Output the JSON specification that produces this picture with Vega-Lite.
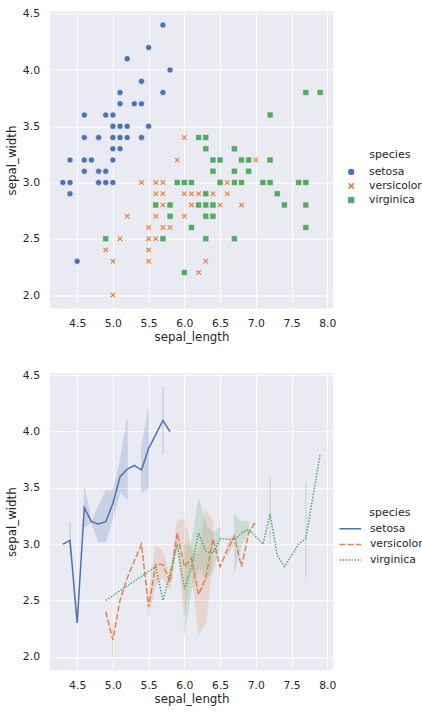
{
  "$schema": "https://vega.github.io/schema/vega-lite/v6.json",
  "padding": {"top": 7.5, "left": 6, "right": 0, "bottom": 5},
  "spacing": 24.7,
  "resolve": {
    "scale": {"color": "independent", "shape": "independent", "strokeDash": "independent", "stroke": "independent"},
    "legend": {"color": "independent", "shape": "independent", "strokeDash": "independent", "stroke": "independent"}
  },
  "config": {
    "font": "DejaVu Sans",
    "view": {"fill": "#EAEAF2", "stroke": null},
    "axis": {"domain": false, "ticks": false, "grid": true, "gridColor": "#FFFFFF", "gridWidth": 1, "labelColor": "#262626", "titleColor": "#262626", "labelFont": "DejaVu Sans", "titleFont": "DejaVu Sans", "labelFontSize": 10.8, "titleFontSize": 11.8, "titleFontWeight": "normal"},
    "axisX": {"labelPadding": 9, "titlePadding": 3.5},
    "axisY": {"labelPadding": 10.5, "titlePadding": 4.5},
    "legend": {"padding": 0, "labelFont": "DejaVu Sans", "titleFont": "DejaVu Sans", "labelFontSize": 10.8, "titleFontSize": 11, "titleFontWeight": "normal", "labelColor": "#262626", "titleColor": "#262626", "rowPadding": 2.1, "titlePadding": 7}
  },
  "datasets": {
    "iris": [
      {"species":"setosa","sepal_length":5.1,"sepal_width":3.5},
      {"species":"setosa","sepal_length":4.9,"sepal_width":3.0},
      {"species":"setosa","sepal_length":4.7,"sepal_width":3.2},
      {"species":"setosa","sepal_length":4.6,"sepal_width":3.1},
      {"species":"setosa","sepal_length":5.0,"sepal_width":3.6},
      {"species":"setosa","sepal_length":5.4,"sepal_width":3.9},
      {"species":"setosa","sepal_length":4.6,"sepal_width":3.4},
      {"species":"setosa","sepal_length":5.0,"sepal_width":3.4},
      {"species":"setosa","sepal_length":4.4,"sepal_width":2.9},
      {"species":"setosa","sepal_length":4.9,"sepal_width":3.1},
      {"species":"setosa","sepal_length":5.4,"sepal_width":3.7},
      {"species":"setosa","sepal_length":4.8,"sepal_width":3.4},
      {"species":"setosa","sepal_length":4.8,"sepal_width":3.0},
      {"species":"setosa","sepal_length":4.3,"sepal_width":3.0},
      {"species":"setosa","sepal_length":5.8,"sepal_width":4.0},
      {"species":"setosa","sepal_length":5.7,"sepal_width":4.4},
      {"species":"setosa","sepal_length":5.4,"sepal_width":3.9},
      {"species":"setosa","sepal_length":5.1,"sepal_width":3.5},
      {"species":"setosa","sepal_length":5.7,"sepal_width":3.8},
      {"species":"setosa","sepal_length":5.1,"sepal_width":3.8},
      {"species":"setosa","sepal_length":5.4,"sepal_width":3.4},
      {"species":"setosa","sepal_length":5.1,"sepal_width":3.7},
      {"species":"setosa","sepal_length":4.6,"sepal_width":3.6},
      {"species":"setosa","sepal_length":5.1,"sepal_width":3.3},
      {"species":"setosa","sepal_length":4.8,"sepal_width":3.4},
      {"species":"setosa","sepal_length":5.0,"sepal_width":3.0},
      {"species":"setosa","sepal_length":5.0,"sepal_width":3.4},
      {"species":"setosa","sepal_length":5.2,"sepal_width":3.5},
      {"species":"setosa","sepal_length":5.2,"sepal_width":3.4},
      {"species":"setosa","sepal_length":4.7,"sepal_width":3.2},
      {"species":"setosa","sepal_length":4.8,"sepal_width":3.1},
      {"species":"setosa","sepal_length":5.4,"sepal_width":3.4},
      {"species":"setosa","sepal_length":5.2,"sepal_width":4.1},
      {"species":"setosa","sepal_length":5.5,"sepal_width":4.2},
      {"species":"setosa","sepal_length":4.9,"sepal_width":3.1},
      {"species":"setosa","sepal_length":5.0,"sepal_width":3.2},
      {"species":"setosa","sepal_length":5.5,"sepal_width":3.5},
      {"species":"setosa","sepal_length":4.9,"sepal_width":3.6},
      {"species":"setosa","sepal_length":4.4,"sepal_width":3.0},
      {"species":"setosa","sepal_length":5.1,"sepal_width":3.4},
      {"species":"setosa","sepal_length":5.0,"sepal_width":3.5},
      {"species":"setosa","sepal_length":4.5,"sepal_width":2.3},
      {"species":"setosa","sepal_length":4.4,"sepal_width":3.2},
      {"species":"setosa","sepal_length":5.0,"sepal_width":3.5},
      {"species":"setosa","sepal_length":5.1,"sepal_width":3.8},
      {"species":"setosa","sepal_length":4.8,"sepal_width":3.0},
      {"species":"setosa","sepal_length":5.1,"sepal_width":3.8},
      {"species":"setosa","sepal_length":4.6,"sepal_width":3.2},
      {"species":"setosa","sepal_length":5.3,"sepal_width":3.7},
      {"species":"setosa","sepal_length":5.0,"sepal_width":3.3},
      {"species":"versicolor","sepal_length":7.0,"sepal_width":3.2},
      {"species":"versicolor","sepal_length":6.4,"sepal_width":3.2},
      {"species":"versicolor","sepal_length":6.9,"sepal_width":3.1},
      {"species":"versicolor","sepal_length":5.5,"sepal_width":2.3},
      {"species":"versicolor","sepal_length":6.5,"sepal_width":2.8},
      {"species":"versicolor","sepal_length":5.7,"sepal_width":2.8},
      {"species":"versicolor","sepal_length":6.3,"sepal_width":3.3},
      {"species":"versicolor","sepal_length":4.9,"sepal_width":2.4},
      {"species":"versicolor","sepal_length":6.6,"sepal_width":2.9},
      {"species":"versicolor","sepal_length":5.2,"sepal_width":2.7},
      {"species":"versicolor","sepal_length":5.0,"sepal_width":2.0},
      {"species":"versicolor","sepal_length":5.9,"sepal_width":3.0},
      {"species":"versicolor","sepal_length":6.0,"sepal_width":2.2},
      {"species":"versicolor","sepal_length":6.1,"sepal_width":2.9},
      {"species":"versicolor","sepal_length":5.6,"sepal_width":2.9},
      {"species":"versicolor","sepal_length":6.7,"sepal_width":3.1},
      {"species":"versicolor","sepal_length":5.6,"sepal_width":3.0},
      {"species":"versicolor","sepal_length":5.8,"sepal_width":2.7},
      {"species":"versicolor","sepal_length":6.2,"sepal_width":2.2},
      {"species":"versicolor","sepal_length":5.6,"sepal_width":2.5},
      {"species":"versicolor","sepal_length":5.9,"sepal_width":3.2},
      {"species":"versicolor","sepal_length":6.1,"sepal_width":2.8},
      {"species":"versicolor","sepal_length":6.3,"sepal_width":2.5},
      {"species":"versicolor","sepal_length":6.1,"sepal_width":2.8},
      {"species":"versicolor","sepal_length":6.4,"sepal_width":2.9},
      {"species":"versicolor","sepal_length":6.6,"sepal_width":3.0},
      {"species":"versicolor","sepal_length":6.8,"sepal_width":2.8},
      {"species":"versicolor","sepal_length":6.7,"sepal_width":3.0},
      {"species":"versicolor","sepal_length":6.0,"sepal_width":2.9},
      {"species":"versicolor","sepal_length":5.7,"sepal_width":2.6},
      {"species":"versicolor","sepal_length":5.5,"sepal_width":2.4},
      {"species":"versicolor","sepal_length":5.5,"sepal_width":2.4},
      {"species":"versicolor","sepal_length":5.8,"sepal_width":2.7},
      {"species":"versicolor","sepal_length":6.0,"sepal_width":2.7},
      {"species":"versicolor","sepal_length":5.4,"sepal_width":3.0},
      {"species":"versicolor","sepal_length":6.0,"sepal_width":3.4},
      {"species":"versicolor","sepal_length":6.7,"sepal_width":3.1},
      {"species":"versicolor","sepal_length":6.3,"sepal_width":2.3},
      {"species":"versicolor","sepal_length":5.6,"sepal_width":3.0},
      {"species":"versicolor","sepal_length":5.5,"sepal_width":2.5},
      {"species":"versicolor","sepal_length":5.5,"sepal_width":2.6},
      {"species":"versicolor","sepal_length":6.1,"sepal_width":3.0},
      {"species":"versicolor","sepal_length":5.8,"sepal_width":2.6},
      {"species":"versicolor","sepal_length":5.0,"sepal_width":2.3},
      {"species":"versicolor","sepal_length":5.6,"sepal_width":2.7},
      {"species":"versicolor","sepal_length":5.7,"sepal_width":3.0},
      {"species":"versicolor","sepal_length":5.7,"sepal_width":2.9},
      {"species":"versicolor","sepal_length":6.2,"sepal_width":2.9},
      {"species":"versicolor","sepal_length":5.1,"sepal_width":2.5},
      {"species":"versicolor","sepal_length":5.7,"sepal_width":2.8},
      {"species":"virginica","sepal_length":6.3,"sepal_width":3.3},
      {"species":"virginica","sepal_length":5.8,"sepal_width":2.7},
      {"species":"virginica","sepal_length":7.1,"sepal_width":3.0},
      {"species":"virginica","sepal_length":6.3,"sepal_width":2.9},
      {"species":"virginica","sepal_length":6.5,"sepal_width":3.0},
      {"species":"virginica","sepal_length":7.6,"sepal_width":3.0},
      {"species":"virginica","sepal_length":4.9,"sepal_width":2.5},
      {"species":"virginica","sepal_length":7.3,"sepal_width":2.9},
      {"species":"virginica","sepal_length":6.7,"sepal_width":2.5},
      {"species":"virginica","sepal_length":7.2,"sepal_width":3.6},
      {"species":"virginica","sepal_length":6.5,"sepal_width":3.2},
      {"species":"virginica","sepal_length":6.4,"sepal_width":2.7},
      {"species":"virginica","sepal_length":6.8,"sepal_width":3.0},
      {"species":"virginica","sepal_length":5.7,"sepal_width":2.5},
      {"species":"virginica","sepal_length":5.8,"sepal_width":2.8},
      {"species":"virginica","sepal_length":6.4,"sepal_width":3.2},
      {"species":"virginica","sepal_length":6.5,"sepal_width":3.0},
      {"species":"virginica","sepal_length":7.7,"sepal_width":3.8},
      {"species":"virginica","sepal_length":7.7,"sepal_width":2.6},
      {"species":"virginica","sepal_length":6.0,"sepal_width":2.2},
      {"species":"virginica","sepal_length":6.9,"sepal_width":3.2},
      {"species":"virginica","sepal_length":5.6,"sepal_width":2.8},
      {"species":"virginica","sepal_length":7.7,"sepal_width":2.8},
      {"species":"virginica","sepal_length":6.3,"sepal_width":2.7},
      {"species":"virginica","sepal_length":6.7,"sepal_width":3.3},
      {"species":"virginica","sepal_length":7.2,"sepal_width":3.2},
      {"species":"virginica","sepal_length":6.2,"sepal_width":2.8},
      {"species":"virginica","sepal_length":6.1,"sepal_width":3.0},
      {"species":"virginica","sepal_length":6.4,"sepal_width":2.8},
      {"species":"virginica","sepal_length":7.2,"sepal_width":3.0},
      {"species":"virginica","sepal_length":7.4,"sepal_width":2.8},
      {"species":"virginica","sepal_length":7.9,"sepal_width":3.8},
      {"species":"virginica","sepal_length":6.4,"sepal_width":2.8},
      {"species":"virginica","sepal_length":6.3,"sepal_width":2.8},
      {"species":"virginica","sepal_length":6.1,"sepal_width":2.6},
      {"species":"virginica","sepal_length":7.7,"sepal_width":3.0},
      {"species":"virginica","sepal_length":6.3,"sepal_width":3.4},
      {"species":"virginica","sepal_length":6.4,"sepal_width":3.1},
      {"species":"virginica","sepal_length":6.0,"sepal_width":3.0},
      {"species":"virginica","sepal_length":6.9,"sepal_width":3.1},
      {"species":"virginica","sepal_length":6.7,"sepal_width":3.1},
      {"species":"virginica","sepal_length":6.9,"sepal_width":3.1},
      {"species":"virginica","sepal_length":5.8,"sepal_width":2.7},
      {"species":"virginica","sepal_length":6.8,"sepal_width":3.2},
      {"species":"virginica","sepal_length":6.7,"sepal_width":3.3},
      {"species":"virginica","sepal_length":6.7,"sepal_width":3.0},
      {"species":"virginica","sepal_length":6.3,"sepal_width":2.5},
      {"species":"virginica","sepal_length":6.5,"sepal_width":3.0},
      {"species":"virginica","sepal_length":6.2,"sepal_width":3.4},
      {"species":"virginica","sepal_length":5.9,"sepal_width":3.0}
    ]
  },
  "vconcat": [
    {
      "width": 283,
      "height": 297,
      "data": {"name": "iris"},
      "mark": {"type": "point", "filled": true, "opacity": 1, "size": 38, "stroke": "#FFFFFF", "strokeWidth": 0.6},
      "encoding": {
        "x": {"field": "sepal_length", "type": "quantitative", "scale": {"domain": [4.12, 8.08], "nice": false, "zero": false}, "axis": {"values": [4.5, 5, 5.5, 6, 6.5, 7, 7.5, 8], "format": ".1f"}},
        "y": {"field": "sepal_width", "type": "quantitative", "scale": {"domain": [1.88, 4.52], "nice": false, "zero": false}, "axis": {"values": [2, 2.5, 3, 3.5, 4, 4.5], "format": ".1f"}},
        "color": {"field": "species", "type": "nominal", "scale": {"domain": ["setosa", "versicolor", "virginica"], "range": ["#4C72B0", "#DD8452", "#55A868"]},
          "legend": {"title": "species", "orient": "none", "legendX": 319.3, "legendY": 137, "symbolSize": 40, "symbolStrokeWidth": 0, "symbolOffset": -23.5, "labelOffset": 12.5}},
        "shape": {"field": "species", "type": "nominal", "scale": {"domain": ["setosa", "versicolor", "virginica"], "range": ["circle", "M-1,-0.6L-0.6,-1L0,-0.4L0.6,-1L1,-0.6L0.4,0L1,0.6L0.6,1L0,0.4L-0.6,1L-1,0.6L-0.4,0Z", "square"]},
          "legend": {"title": "species", "orient": "none", "legendX": 319.3, "legendY": 137, "symbolSize": 40, "symbolStrokeWidth": 0, "symbolOffset": -23.5, "labelOffset": 12.5}}
      }
    },
    {
      "width": 283,
      "height": 297,
      "data": {"name": "iris"},
      "encoding": {
        "x": {"field": "sepal_length", "type": "quantitative", "scale": {"domain": [4.12, 8.08], "nice": false, "zero": false}, "axis": {"values": [4.5, 5, 5.5, 6, 6.5, 7, 7.5, 8], "format": ".1f", "title": "sepal_length"}}
      },
      "layer": [
        {
          "transform": [
            {"aggregate": [{"op": "ci0", "field": "sepal_width", "as": "lo"}, {"op": "ci1", "field": "sepal_width", "as": "hi"}, {"op": "count", "as": "n"}], "groupby": ["species", "sepal_length"]},
            {"filter": "datum.n > 1"},
            {"impute": "lo", "key": "sepal_length", "keyvals": [4.3,4.4,4.5,4.6,4.7,4.8,4.9,5.0,5.1,5.2,5.3,5.4,5.5,5.6,5.7,5.8,5.9,6.0,6.1,6.2,6.3,6.4,6.5,6.6,6.7,6.8,6.9,7.0,7.1,7.2,7.3,7.4,7.5,7.6,7.7,7.8,7.9], "groupby": ["species"], "value": null}
          ],
          "mark": {"type": "area", "opacity": 0.2, "strokeWidth": 1},
          "encoding": {
            "y": {"field": "lo", "type": "quantitative", "scale": {"domain": [1.88, 4.52], "nice": false, "zero": false}, "axis": {"values": [2, 2.5, 3, 3.5, 4, 4.5], "format": ".1f", "title": "sepal_width"}},
            "y2": {"field": "hi"},
            "color": {"field": "species", "type": "nominal", "scale": {"domain": ["setosa", "versicolor", "virginica"], "range": ["#4C72B0", "#DD8452", "#55A868"]}},
            "stroke": {"field": "species", "type": "nominal", "scale": {"domain": ["setosa", "versicolor", "virginica"], "range": ["#4C72B0", "#DD8452", "#55A868"]}, "legend": null}
          }
        },
        {
          "mark": {"type": "line", "strokeWidth": 1.5},
          "encoding": {
            "y": {"field": "sepal_width", "type": "quantitative", "aggregate": "mean", "title": "sepal_width"},
            "color": {"field": "species", "type": "nominal", "scale": {"domain": ["setosa", "versicolor", "virginica"], "range": ["#4C72B0", "#DD8452", "#55A868"]},
              "legend": {"orient": "none", "legendX": 288.3, "legendY": 133.5, "symbolType": "stroke", "symbolSize": 471, "symbolStrokeWidth": 1.5, "symbolOpacity": 1, "labelOffset": 7.6, "clipHeight": 14, "rowPadding": 1.7, "titlePadding": 4, "title": "species", "encode": {"title": {"update": {"dx": {"value": 31}}}}}},
            "strokeDash": {"field": "species", "type": "nominal", "scale": {"domain": ["setosa", "versicolor", "virginica"], "range": [[1, 0], [6, 2.25], [1.5, 1.5]]},
              "legend": {"orient": "none", "legendX": 288.3, "legendY": 133.5, "symbolType": "stroke", "symbolSize": 471, "symbolStrokeWidth": 1.5, "symbolOpacity": 1, "labelOffset": 7.6, "clipHeight": 14, "rowPadding": 1.7, "titlePadding": 4, "title": "species", "encode": {"title": {"update": {"dx": {"value": 31}}}}}}
          }
        }
      ]
    }
  ]
}
